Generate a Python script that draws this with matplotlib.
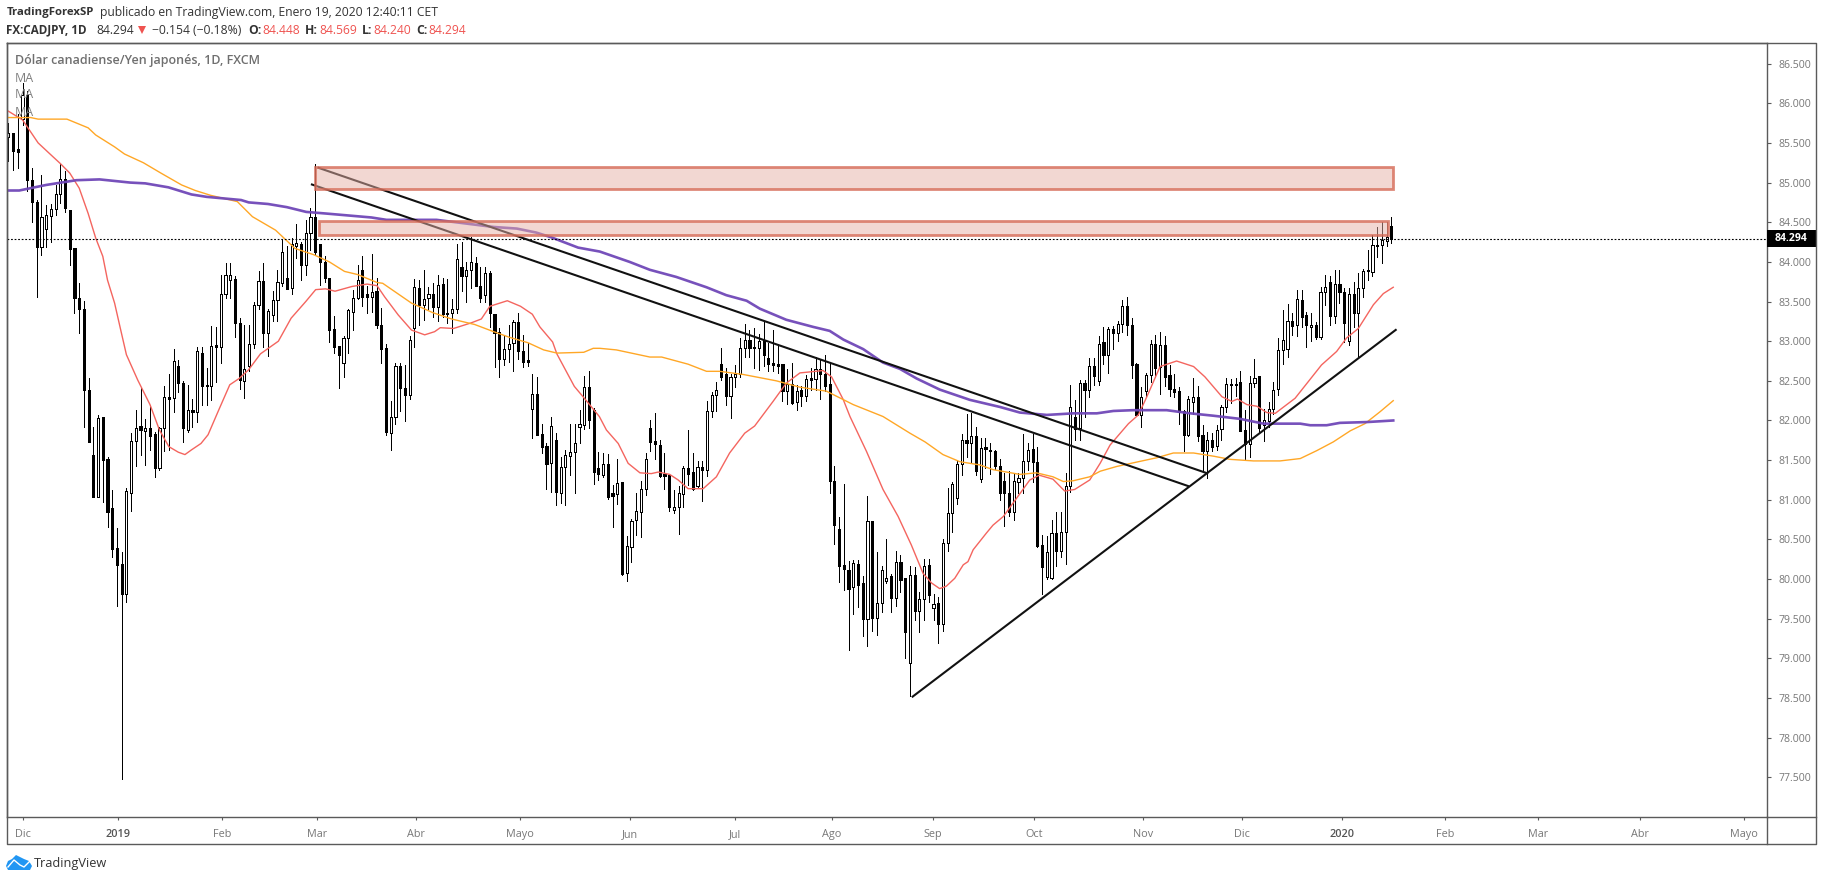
#!/usr/bin/env python3
# CADJPY daily candles with moving averages, trend lines and two zones
import matplotlib
matplotlib.use("Agg")
import matplotlib.pyplot as plt
from matplotlib.patches import Rectangle, Polygon

plt.rcParams['font.family'] = ['Open Sans', 'DejaVu Sans']

opens = [85.58, 85.63, 85.42, 85.80, 86.10, 85.03, 84.75, 84.19, 84.42, 84.58,
         84.67, 84.85, 85.05, 84.66, 84.17, 83.55, 83.41, 82.38, 81.56, 81.04,
         82.04, 81.51, 80.90, 80.39, 80.19, 79.81, 81.09, 81.74, 81.93, 81.87,
         81.90, 81.83, 81.40, 81.91, 82.29, 82.28, 82.69, 82.47, 81.88, 82.13,
         82.11, 82.85, 82.44, 82.44, 82.95, 82.93, 83.60, 83.77, 83.78, 83.23,
         82.50, 82.69, 82.97, 83.45, 83.76, 83.10, 83.33, 83.52, 83.73, 83.80,
         83.67, 84.20, 84.23, 83.96, 84.37, 84.56, 84.23, 84.00, 83.80, 83.15,
         82.94, 82.72, 83.04, 83.37, 83.55, 83.90, 83.60, 83.56, 83.63, 83.20,
         82.92, 81.84, 82.04, 82.69, 82.41, 82.32, 83.16, 83.67, 83.46, 83.54,
         83.60, 83.43, 83.72, 83.36, 83.35, 83.41, 83.94, 83.82, 83.90, 83.98,
         83.69, 83.58, 83.86, 83.34, 83.12, 82.77, 82.90, 82.98, 83.24, 82.88,
         82.76, 82.14, 82.34, 81.83, 81.68, 81.46, 81.75, 81.08, 81.41, 81.55,
         81.60, 81.92, 81.94, 82.42, 82.13, 81.40, 81.31, 81.45, 81.08, 81.07,
         81.22, 80.08, 80.41, 80.74, 80.85, 81.13, 81.90, 81.74, 81.69, 81.32,
         81.31, 80.87, 80.91, 81.07, 81.40, 81.35, 81.17, 81.41, 81.38, 82.12,
         82.32, 82.71, 82.58, 82.31, 82.55, 82.59, 82.91, 83.02, 82.93, 82.91,
         83.01, 82.79, 82.72, 82.71, 82.71, 82.37, 82.46, 82.23, 82.38, 82.31,
         82.53, 82.52, 82.65, 82.58, 82.46, 81.24, 80.63, 80.18, 80.12, 79.90,
         80.19, 79.95, 79.50, 80.73, 79.51, 79.70, 79.98, 80.04, 79.76, 80.21,
         80.01, 78.94, 80.05, 79.60, 79.75, 80.18, 79.63, 79.70, 79.43, 80.45,
         80.83, 81.02, 81.45, 81.76, 81.71, 81.81, 81.26, 81.67, 81.63, 81.61,
         81.43, 81.24, 81.09, 80.84, 81.22, 81.27, 81.49, 81.64, 81.48, 80.43,
         80.03, 80.02, 80.58, 80.36, 80.60, 81.18, 82.04, 81.90, 82.47, 82.38,
         82.69, 82.50, 82.99, 82.83, 83.15, 83.10, 83.22, 83.44, 83.20, 82.71,
         82.07, 82.37, 82.57, 82.96, 82.67, 82.95, 82.57, 82.40, 82.37, 82.12,
         81.82, 82.23, 82.30, 81.82, 81.62, 81.75, 81.68, 81.89, 82.17, 82.45,
         82.45, 82.48, 81.88, 81.70, 82.47, 82.56, 81.94, 81.99, 82.15, 82.40,
         82.89, 82.90, 83.26, 83.20, 83.52, 83.33, 83.18, 83.21, 83.05, 83.62,
         83.74, 83.32, 83.72, 83.62, 83.00, 83.59, 83.35, 83.67, 83.89, 83.87,
         84.20, 84.21, 84.26, 84.448]
highs = [85.75, 85.63, 85.87, 86.25, 86.15, 85.18, 84.78, 85.10, 84.72, 84.73,
         84.97, 85.24, 85.14, 84.66, 84.17, 83.73, 83.51, 82.54, 81.92, 82.07,
         82.04, 81.54, 81.12, 80.64, 80.34, 81.15, 81.84, 82.13, 82.41, 82.02,
         82.20, 81.86, 81.92, 82.44, 82.59, 82.90, 82.76, 82.50, 82.45, 82.27,
         82.93, 82.93, 82.66, 83.19, 83.18, 83.84, 83.99, 83.99, 83.82, 83.29,
         83.20, 83.20, 83.50, 83.88, 83.98, 83.41, 83.63, 83.90, 84.27, 84.20,
         84.30, 84.48, 84.25, 84.53, 84.68, 85.24, 84.23, 84.07, 83.80, 83.32,
         82.94, 83.06, 83.40, 83.65, 83.96, 84.07, 83.70, 84.10, 83.80, 83.42,
         82.97, 82.25, 82.72, 82.72, 82.70, 83.07, 83.78, 83.77, 83.90, 83.68,
         83.73, 83.84, 83.80, 83.78, 83.53, 84.23, 84.25, 84.00, 84.32, 84.06,
         83.93, 83.94, 83.88, 83.34, 83.16, 83.06, 83.21, 83.27, 83.36, 83.08,
         82.98, 82.59, 82.55, 81.96, 81.72, 82.05, 81.84, 81.54, 81.63, 81.96,
         81.96, 82.13, 82.56, 82.62, 82.16, 81.60, 81.59, 81.58, 81.19, 81.51,
         81.22, 80.54, 80.76, 81.08, 81.24, 81.59, 82.00, 82.09, 81.76, 81.59,
         81.32, 81.12, 81.17, 81.42, 81.88, 81.59, 81.49, 81.49, 82.25, 82.36,
         82.48, 82.91, 82.66, 82.58, 82.70, 83.04, 83.22, 83.14, 83.16, 83.09,
         83.25, 82.98, 83.14, 82.96, 82.71, 82.65, 82.72, 82.45, 82.44, 82.57,
         82.66, 82.80, 82.76, 82.83, 82.74, 81.42, 80.78, 81.20, 80.23, 80.24,
         80.24, 80.04, 81.05, 80.73, 80.34, 80.17, 80.51, 80.07, 80.35, 80.31,
         80.01, 80.16, 80.15, 79.84, 80.25, 80.25, 79.81, 79.78, 80.50, 81.15,
         81.23, 81.50, 81.83, 82.08, 82.09, 81.92, 81.78, 81.78, 81.71, 81.63,
         81.51, 81.34, 81.36, 81.34, 81.34, 81.83, 81.71, 81.83, 81.66, 80.56,
         80.54, 80.74, 80.84, 80.84, 81.34, 82.45, 82.26, 82.51, 82.51, 82.79,
         82.79, 83.06, 83.18, 83.18, 83.19, 83.26, 83.52, 83.56, 83.29, 82.72,
         82.42, 82.60, 83.02, 83.08, 83.12, 83.07, 82.70, 82.59, 82.42, 82.13,
         82.31, 82.53, 82.44, 81.94, 81.85, 81.84, 81.94, 82.20, 82.53, 82.52,
         82.53, 82.62, 82.13, 82.56, 82.77, 82.56, 82.15, 82.23, 82.49, 83.04,
         83.39, 83.47, 83.35, 83.65, 83.64, 83.37, 83.35, 83.24, 83.68, 83.84,
         83.82, 83.90, 83.90, 83.67, 83.67, 83.74, 83.86, 83.91, 84.15, 84.34,
         84.44, 84.50, 84.50, 84.569]
lows = [85.27, 85.16, 85.18, 85.72, 84.90, 84.50, 83.56, 84.09, 84.19, 84.25,
        84.59, 84.74, 84.63, 83.96, 83.36, 83.10, 81.92, 81.73, 81.04, 81.04,
        80.97, 80.66, 80.28, 79.66, 77.48, 79.71, 80.86, 81.42, 81.56, 81.44,
        81.63, 81.29, 81.38, 81.61, 81.63, 82.11, 82.36, 81.73, 81.86, 81.92,
        81.98, 82.20, 82.20, 82.26, 82.48, 82.72, 83.55, 83.55, 83.05, 82.40,
        82.28, 82.62, 82.91, 83.41, 82.93, 82.81, 83.25, 83.25, 83.70, 83.66,
        83.59, 84.05, 83.77, 83.84, 84.15, 84.10, 83.71, 83.75, 82.99, 82.85,
        82.41, 82.55, 82.85, 83.14, 83.53, 83.44, 83.35, 83.37, 83.17, 82.73,
        81.82, 81.63, 81.96, 82.12, 81.99, 82.27, 82.93, 83.20, 83.27, 83.40,
        83.30, 83.25, 83.31, 83.23, 83.10, 83.35, 83.63, 83.49, 83.67, 83.69,
        83.50, 83.50, 83.18, 82.68, 82.55, 82.70, 82.74, 82.62, 82.78, 82.68,
        82.69, 81.78, 81.82, 81.59, 81.13, 81.10, 80.93, 80.96, 80.93, 81.31,
        81.09, 81.71, 81.89, 81.90, 81.20, 81.25, 81.29, 81.01, 80.66, 80.95,
        80.05, 79.97, 80.22, 80.56, 80.53, 81.06, 81.62, 81.52, 81.29, 81.13,
        80.86, 80.83, 80.57, 80.91, 81.19, 81.12, 81.15, 80.99, 81.30, 82.04,
        82.12, 82.51, 82.20, 82.03, 82.42, 82.55, 82.80, 82.80, 82.66, 82.64,
        82.69, 82.62, 82.63, 82.60, 82.25, 82.21, 82.21, 82.13, 82.18, 82.25,
        82.38, 82.38, 82.27, 82.37, 81.09, 80.44, 79.96, 79.86, 79.10, 79.56,
        79.65, 79.28, 79.15, 79.35, 79.30, 79.59, 79.95, 79.58, 79.66, 79.84,
        79.00, 78.52, 79.49, 79.33, 79.49, 79.71, 79.48, 79.20, 79.34, 80.36,
        80.59, 80.95, 81.31, 81.54, 81.48, 81.31, 81.22, 81.40, 81.33, 81.39,
        81.00, 80.67, 80.79, 80.74, 81.08, 81.08, 81.38, 81.23, 80.41, 79.81,
        80.00, 80.00, 80.16, 80.28, 80.19, 81.10, 81.75, 81.75, 82.04, 82.30,
        82.45, 82.45, 82.71, 82.60, 82.90, 83.00, 83.12, 83.08, 82.54, 82.06,
        81.92, 82.30, 82.49, 82.55, 82.34, 82.43, 82.31, 82.29, 81.96, 81.62,
        81.80, 82.08, 81.74, 81.36, 81.28, 81.61, 81.63, 81.75, 82.11, 82.22,
        82.31, 81.87, 81.52, 81.54, 82.42, 81.85, 81.74, 81.92, 82.08, 82.32,
        82.71, 82.80, 83.08, 83.06, 83.18, 82.93, 83.00, 83.03, 83.03, 83.46,
        83.20, 83.23, 83.48, 82.99, 82.95, 83.18, 82.81, 83.56, 83.77, 83.82,
        84.06, 83.98, 84.20, 84.240]
closes = [85.62, 85.40, 85.38, 86.10, 85.03, 84.75, 84.19, 84.57, 84.59, 84.67,
          84.85, 85.05, 84.68, 84.16, 83.54, 83.41, 82.38, 81.73, 81.04, 82.03,
          81.50, 80.84, 80.38, 80.18, 79.81, 81.11, 81.74, 81.91, 81.88, 81.90,
          81.81, 81.40, 81.91, 82.29, 82.27, 82.75, 82.47, 81.90, 82.13, 82.11,
          82.87, 82.43, 82.43, 82.94, 82.93, 83.60, 83.84, 83.83, 83.23, 82.51,
          82.65, 82.97, 83.45, 83.76, 83.10, 83.38, 83.52, 83.74, 84.13, 83.66,
          84.22, 84.24, 83.96, 84.37, 84.56, 84.12, 84.00, 83.80, 83.14, 82.93,
          82.83, 83.04, 83.39, 83.55, 83.77, 83.56, 83.56, 83.62, 83.20, 82.90,
          81.85, 82.04, 82.69, 82.41, 82.32, 83.02, 83.68, 83.46, 83.53, 83.59,
          83.43, 83.71, 83.34, 83.34, 83.41, 84.03, 83.82, 83.90, 84.00, 83.69,
          83.55, 83.86, 83.35, 83.10, 82.78, 82.90, 82.97, 83.24, 82.87, 82.74,
          82.74, 82.34, 81.82, 81.67, 81.45, 81.93, 81.10, 81.41, 81.56, 81.60,
          81.71, 81.95, 82.42, 82.00, 81.35, 81.33, 81.45, 81.04, 81.05, 81.21,
          80.07, 80.42, 80.73, 80.86, 81.13, 81.52, 81.73, 81.70, 81.30, 81.30,
          80.91, 80.91, 81.08, 81.40, 81.33, 81.13, 81.41, 81.38, 82.12, 82.32,
          82.39, 82.55, 82.31, 82.55, 82.59, 82.91, 83.02, 82.92, 82.91, 83.00,
          82.82, 82.71, 82.70, 82.69, 82.37, 82.46, 82.22, 82.37, 82.31, 82.52,
          82.51, 82.65, 82.58, 82.44, 81.24, 80.68, 80.16, 80.13, 79.88, 80.20,
          79.92, 79.50, 80.73, 79.51, 79.70, 80.12, 80.02, 79.76, 80.21, 79.99,
          79.33, 80.05, 79.60, 79.75, 80.16, 79.80, 79.69, 79.43, 80.45, 80.83,
          81.20, 81.45, 81.76, 81.71, 81.80, 81.36, 81.65, 81.64, 81.62, 81.42,
          81.08, 81.08, 80.84, 81.24, 81.27, 81.49, 81.63, 81.48, 80.42, 80.15,
          80.34, 80.58, 80.36, 80.60, 81.18, 82.17, 81.89, 82.47, 82.38, 82.69,
          82.56, 82.97, 82.83, 83.15, 83.10, 83.22, 83.44, 83.20, 82.70, 82.07,
          82.30, 82.57, 82.97, 82.66, 82.95, 82.55, 82.40, 82.36, 82.11, 81.82,
          82.27, 82.30, 81.81, 81.62, 81.76, 81.67, 81.88, 82.17, 82.46, 82.46,
          82.46, 81.87, 81.70, 82.47, 82.54, 81.91, 82.00, 82.15, 82.39, 82.89,
          83.01, 83.26, 83.19, 83.53, 83.31, 83.20, 83.21, 83.05, 83.62, 83.68,
          83.32, 83.72, 83.62, 83.23, 83.59, 83.35, 83.67, 83.89, 83.90, 84.21,
          84.21, 84.28, 84.31, 84.294]

# moving averages, vertices (bar number, price)
red_x = [0, 3, 6.3, 9, 11, 13, 15, 16.9, 18.5, 20, 21, 22.5, 23.8, 25, 27.4, 30, 32, 34, 36, 37.4,
         38.8, 40.8, 42.3, 44.4, 46.9, 48.9, 50.9, 53.4, 57.2, 59.9, 63, 65.1, 67.2, 69.2, 72.8, 76,
         78.1, 79.7, 82.6, 85.4, 88.2, 90.3, 91.5, 94.3, 98, 100.2, 102, 105.7, 108.5, 111, 112.6,
         115.3, 116.2, 119.9, 122.3, 125.2, 126.7, 129.2, 131.3, 133.8, 136.2, 137.7, 140.1, 141.9,
         144, 147.2, 150, 152.8, 156, 158.1, 162, 164.8, 167.7, 169.4, 172.6, 174.4, 176.9, 178.3,
         181.8, 185.3, 188.5, 191.3, 193.8, 195.6, 197.3, 198.7, 200.5, 202.3, 203.3, 204.4, 207.2,
         208.6, 210.8, 213.6, 216.4, 218.4, 221.3, 223.8, 225.9, 229.1, 231.3, 233.4, 237.3, 239.4,
         241.2, 244, 247.5, 251.1, 253.5, 257.1, 259.2, 260.4, 262.4, 264.5, 266.6, 268.4, 272.6,
         278.2, 281.4, 283.5, 286, 289.2, 291.3, 293.4]
red_y = [85.9, 85.79, 85.5, 85.35, 85.24, 85.12, 84.93, 84.61, 84.3, 84.07, 83.77, 83.48, 83.14, 82.83,
         82.51, 82.2, 81.88, 81.67, 81.6, 81.57, 81.63, 81.71, 81.82, 82.11, 82.45, 82.53, 82.64,
         82.84, 83.0, 83.29, 83.5, 83.65, 83.66, 83.63, 83.69, 83.72, 83.7, 83.56, 83.33, 83.14, 83.08,
         83.12, 83.17, 83.16, 83.23, 83.28, 83.44, 83.51, 83.44, 83.34, 83.18, 82.99, 82.84, 82.43,
         82.26, 82.05, 81.88, 81.71, 81.46, 81.34, 81.33, 81.35, 81.32, 81.25, 81.14, 81.14, 81.29,
         81.59, 81.84, 81.93, 82.24, 82.47, 82.6, 82.61, 82.63, 82.55, 82.26, 82.05, 81.61, 81.13,
         80.79, 80.43, 80.07, 79.95, 79.88, 79.91, 80.01, 80.18, 80.22, 80.37, 80.58, 80.68, 80.79,
         81.02, 81.25, 81.31, 81.26, 81.11, 81.13, 81.25, 81.46, 81.69, 81.96, 82.07, 82.3, 82.68,
         82.75, 82.68, 82.55, 82.3, 82.24, 82.27, 82.2, 82.18, 82.1, 82.09, 82.28, 82.7, 82.87, 83.04,
         83.16, 83.46, 83.6, 83.68]
orange_x = [0, 4.7, 6.3, 12.4, 16.9, 18.5, 22.5, 24.6, 28.6, 32.3, 36.7, 39.6, 42.8, 48.5, 51.7, 56.6,
            60.7, 64.7, 68, 71.2, 74, 78.1, 79.3, 85.4, 89.9, 93.9, 98.8, 102.8, 106.1, 110.1, 113.4,
            116.2, 121.9, 123.9, 125.3, 128.8, 135.9, 138.4, 144, 147.9, 150.7, 155.7, 162.7, 167.7,
            173.3, 179, 185.3, 191, 194.2, 198, 201.6, 205.8, 208.6, 214.3, 217.8, 221.3, 223.5, 225.6,
            229.1, 231.3, 234.8, 239.4, 243.3, 246.8, 251.1, 255.3, 258.8, 263.8, 269.4, 273.7, 277.2,
            280.7, 284.3, 287.4, 290.6, 293.4]
orange_y = [85.82, 85.82, 85.8, 85.8, 85.69, 85.6, 85.45, 85.36, 85.25, 85.12, 84.97, 84.9, 84.84, 84.76,
            84.57, 84.4, 84.17, 84.09, 84.0, 83.88, 83.84, 83.74, 83.73, 83.48, 83.36, 83.28, 83.21,
            83.12, 83.05, 82.98, 82.89, 82.85, 82.86, 82.91, 82.91, 82.89, 82.8, 82.8, 82.71, 82.62,
            82.62, 82.58, 82.5, 82.42, 82.37, 82.2, 82.05, 81.84, 81.73, 81.57, 81.48, 81.44, 81.38,
            81.32, 81.34, 81.29, 81.23, 81.24, 81.29, 81.36, 81.42, 81.48, 81.53, 81.59, 81.59, 81.55,
            81.51, 81.49, 81.49, 81.52, 81.62, 81.73, 81.87, 81.96, 82.11, 82.25]
purple_x = [0, 2.3, 8, 14.4, 19.3, 25.8, 29, 33.9, 38.8, 42, 49.3, 50.9, 55, 59, 63.1, 67.2, 76.9, 80.1,
            90.7, 102.8, 107.7, 111.8, 115, 120.7, 125.3, 131.6, 135.9, 141.5, 147.9, 152.1, 156.4,
            159.2, 164.8, 170.5, 174, 176.9, 181.1, 185.3, 188.9, 192.4, 197.3, 203.7, 210.1, 214.3,
            220, 225.6, 230.6, 234.1, 238.3, 245.4, 250.4, 255.3, 261, 265.9, 273.7, 275.8, 279.3,
            282.1, 287.8, 293.4]
purple_y = [84.9, 84.9, 84.97, 85.03, 85.04, 85.0, 84.99, 84.94, 84.85, 84.82, 84.78, 84.75, 84.73, 84.69,
            84.63, 84.61, 84.56, 84.53, 84.53, 84.44, 84.42, 84.37, 84.31, 84.18, 84.13, 84.0, 83.9,
            83.81, 83.68, 83.58, 83.51, 83.41, 83.27, 83.18, 83.13, 83.02, 82.9, 82.73, 82.65, 82.53,
            82.39, 82.26, 82.17, 82.1, 82.07, 82.09, 82.09, 82.12, 82.13, 82.13, 82.09, 82.06, 82.02,
            81.96, 81.96, 81.94, 81.94, 81.97, 81.98, 82.0]

# trend lines: (bar, price) at both ends
trend_a = ([65.5, 254.2], [85.19, 81.33])
trend_b = ([64.1, 250.1], [84.98, 81.17])
trend_c = ([191.4, 294.1], [78.51, 83.15])

# zones: bar start, bar end, price low, price high
zone_top = (65.0, 293.3, 84.92, 85.20)
zone_low = (65.9, 292.3, 84.34, 84.52)

last_price = 84.294
y_ticks = [77.5, 78, 78.5, 79, 79.5, 80, 80.5, 81, 81.5, 82, 82.5, 83, 83.5, 84, 84.5, 85, 85.5, 86, 86.5]
month_pos = [3.1, 23.2, 45.3, 65.3, 86.4, 108.4, 131.6, 153.9, 174.4, 195.9, 217.3, 240.3, 261.3,
             282.5, 304.4, 324.1, 345.6, 367.7]
month_labels = ['Dic', '2019', 'Feb', 'Mar', 'Abr', 'Mayo', 'Jun', 'Jul', 'Ago', 'Sep', 'Oct', 'Nov', 'Dic',
                '2020', 'Feb', 'Mar', 'Abr', 'Mayo']

W, H = 1828, 881
PLOT_L, PLOT_R, PLOT_T, PLOT_B = 6.5, 1767, 43, 817
AXIS_C = '#5a5a5a'
TXT_C = '#777777'
RED = '#ef5350'

fig = plt.figure(figsize=(W / 100, H / 100), dpi=100, facecolor='white')
ax = fig.add_axes([PLOT_L / W, 1 - PLOT_B / H, (PLOT_R - PLOT_L) / W, (PLOT_B - PLOT_T) / H])

bars = list(range(len(opens)))
ax.vlines(bars, lows, highs, colors='black', lw=0.72, zorder=2, antialiased=False)
bottoms = [min(o, c) for o, c in zip(opens, closes)]
sizes = [max(abs(c - o), 0.012) for o, c in zip(opens, closes)]
fills = ['white' if c >= o else 'black' for o, c in zip(opens, closes)]
ax.bar(bars, sizes, bottom=bottoms, width=0.45, color=fills, edgecolor='black', linewidth=0.72, zorder=2.5,
       antialiased=False)

ax.plot(red_x, red_y, color='#f4655f', lw=1.0, zorder=3)
ax.plot(orange_x, orange_y, color='#ffa726', lw=1.0, zorder=3)
ax.plot(purple_x, purple_y, color='#7048b8', lw=1.9, zorder=3, alpha=0.95)

for line in (trend_a, trend_b, trend_c):
    ax.plot(line[0], line[1], color='#111111', lw=1.5, zorder=4, solid_capstyle='butt')

ax.axhline(last_price, color='black', lw=0.8, ls=(0, (1.6, 1.6)), zorder=3.5)

for b0, b1, p0, p1 in (zone_top, zone_low):
    ax.add_patch(Rectangle((b0, p0), b1 - b0, p1 - p0, facecolor=(0.90, 0.69, 0.65, 0.5),
                           edgecolor=(0.84, 0.42, 0.34, 0.8), linewidth=2.0, zorder=5))

ax.set_xlim((PLOT_L - 8.4) / 4.72, (PLOT_R - 8.4) / 4.72)
ax.set_ylim(77.0, 86.76)
ax.yaxis.tick_right()
ax.set_yticks(y_ticks)
ax.set_yticklabels(['%.3f' % v for v in y_ticks])
ax.set_xticks(month_pos)
ax.set_xticklabels(month_labels)
ax.tick_params(axis='y', length=3, width=0.8, color=AXIS_C, labelsize=7.6, labelcolor=TXT_C, pad=5)
ax.tick_params(axis='x', length=2.5, width=0.8, color=AXIS_C, labelsize=7.8, labelcolor=TXT_C, pad=6)
for lab in ax.get_xticklabels():
    if lab.get_text() in ('2019', '2020'):
        lab.set_color('#555555')
        lab.set_fontweight('semibold')
for s in ax.spines.values():
    s.set_color(AXIS_C)
    s.set_linewidth(1.0)

# overlay in pixel coordinates for the frame, header and logo
ov = fig.add_axes([0, 0, 1, 1], zorder=10)
ov.set_xlim(0, W)
ov.set_ylim(H, 0)
ov.axis('off')
ov.patch.set_alpha(0)

ov.plot([PLOT_L, 1816, 1816, PLOT_L, PLOT_L], [PLOT_T, PLOT_T, 844, 844, PLOT_T], color=AXIS_C, lw=1.0)
ov.plot([PLOT_R, 1816], [PLOT_B, PLOT_B], color=AXIS_C, lw=1.0)
ov.plot([PLOT_R, PLOT_R], [PLOT_B, 844], color=AXIS_C, lw=1.0)

# last price tag
y_tag = PLOT_B - (last_price - 77.0) / (86.76 - 77.0) * (PLOT_B - PLOT_T)
ov.add_patch(Rectangle((PLOT_R, y_tag - 8.5), 1816 - PLOT_R, 17, facecolor='black', edgecolor='none'))
ov.text(1775, y_tag, '%.3f' % last_price, color='white', fontsize=7.6, fontweight='bold', va='center', ha='left')

# header
def head(x, y, s, color='#333333', weight='normal', size=8.7):
    ov.text(x, y, s, color=color, fontsize=size, fontweight=weight, va='center', ha='left')

head(6.5, 12.5, 'TradingForexSP', weight='bold', size=8.2)
head(100, 12.5, 'publicado en TradingView.com, Enero 19, 2020 12:40:11 CET')
head(6.5, 30, 'FX:CADJPY, 1D', weight='bold', size=8.4)
head(96, 30, '84.294')
ov.add_patch(Polygon([[138, 26], [146, 26], [142, 34]], facecolor=RED, edgecolor='none'))
head(152, 30, '\u22120.154 (\u22120.18%)')
for x0, lab, x1, val in [(248, 'O:', 262, '84.448'), (305, 'H:', 319, '84.569'),
                         (362, 'L:', 373, '84.240'), (416, 'C:', 428, '84.294')]:
    head(x0, 30, lab, weight='bold')
    head(x1, 30, val, color=RED)

# legend lines inside the chart
ov.text(15, 60.5, 'D\u00f3lar canadiense/Yen japon\u00e9s, 1D, FXCM', color='#6f6f6f', fontsize=9,
        fontweight='semibold', va='center', ha='left')
for y_ma in (78, 95, 112):
    ov.text(15, y_ma, 'MA', color='#7f7f7f', fontsize=9, va='center', ha='left')

# TradingView logo
ov.add_patch(Polygon([[6, 866], [8, 861], [12, 859], [16, 855], [20, 857], [24, 859], [29, 861], [32, 866],
                      [30, 870], [8, 870]], closed=True, facecolor='#2196f3', edgecolor='none'))
ov.plot([8, 14, 20, 24, 30], [867, 860, 865, 867, 861], color='white', lw=1.0)
ov.text(34, 863, 'TradingView', color='#333333', fontsize=9.2, va='center', ha='left')

fig.savefig('out.png', dpi=100)
